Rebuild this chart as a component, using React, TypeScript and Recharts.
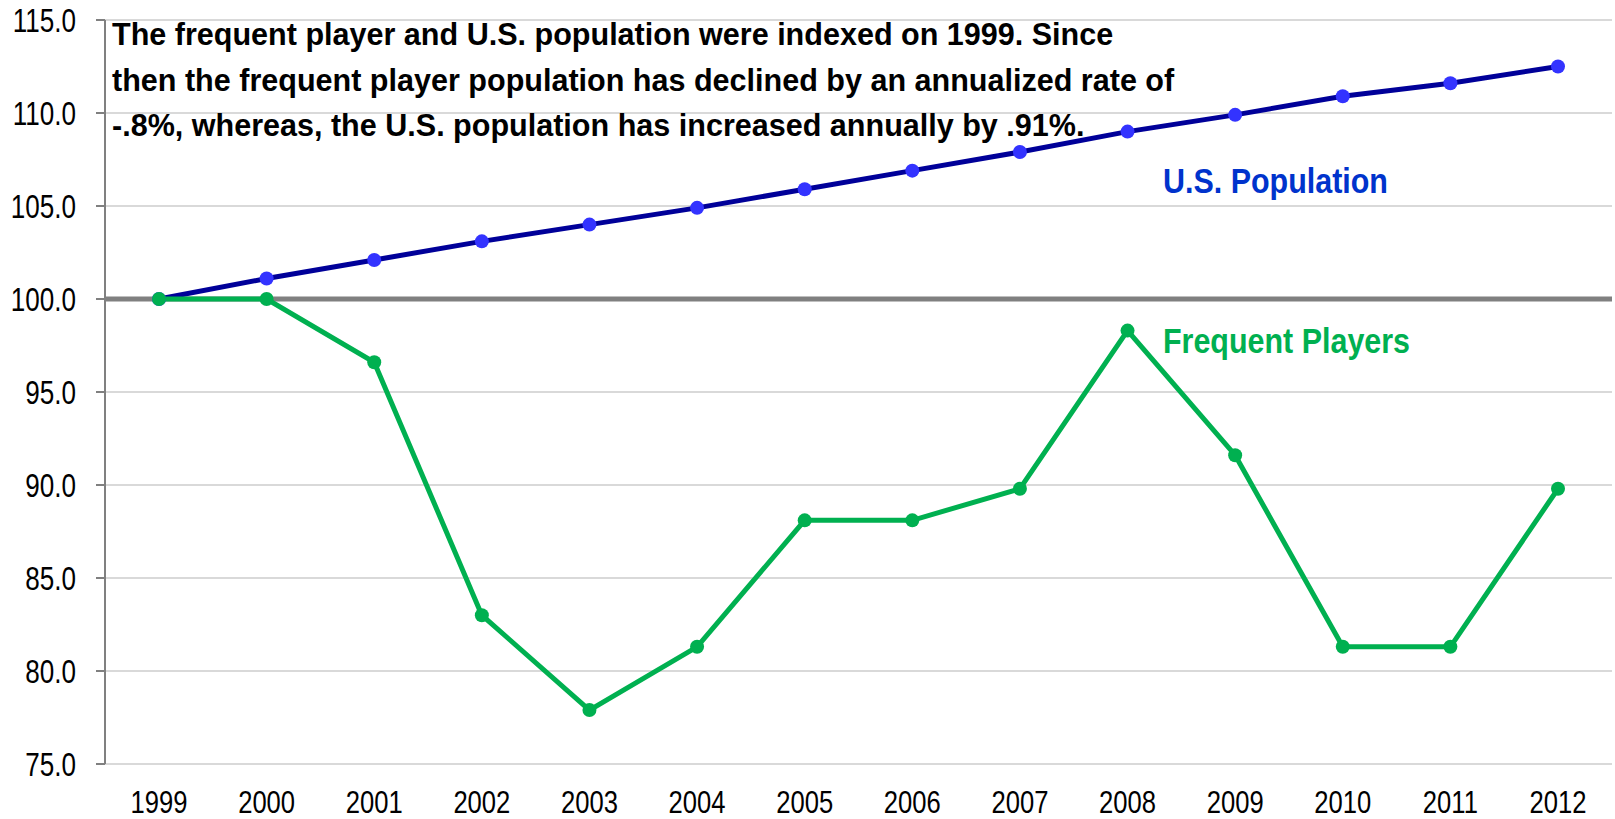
import React from "react"
import {
  LineChart, Line, XAxis, YAxis, CartesianGrid, ReferenceLine
} from "recharts"

const years = ["1999", "2000", "2001", "2002", "2003", "2004", "2005", "2006", "2007", "2008", "2009", "2010", "2011", "2012"]
const usPopulation = [100.0, 101.1, 102.1, 103.1, 104.0, 104.9, 105.9, 106.9, 107.9, 109.0, 109.9, 110.9, 111.6, 112.5]
const frequentPlayers = [100.0, 100.0, 96.6, 83.0, 77.9, 81.3, 88.1, 88.1, 89.8, 98.3, 91.6, 81.3, 81.3, 89.8]
const yTicks = [75, 80, 85, 90, 95, 100, 105, 110, 115]

const noteLines = [
  "The frequent player and U.S. population were indexed on 1999. Since",
  "then the frequent player population has declined by an annualized rate of",
  "-.8%, whereas, the U.S. population has increased annually by .91%.",
]

const SANS = '"Liberation Sans", Arial, sans-serif'

const data = years.map((year, i) => ({
  year,
  us: usPopulation[i],
  fp: frequentPlayers[i],
}))

// text squeezed horizontally to look like Arial Narrow
const NarrowText = ({ x, y, sx, size, color, children }: any) => (
  <text
    transform={`translate(${x},${y}) scale(${sx},1)`}
    fontFamily={SANS}
    fontWeight="bold"
    fontSize={size}
    fill={color}
    style={{ whiteSpace: "pre" }}
  >
    {children}
  </text>
)

const XTick = ({ x, y, payload }: any) => (
  <text
    transform={`translate(${x},${y}) scale(0.8,1)`}
    textAnchor="middle"
    dy="0.71em"
    fontFamily={SANS}
    fontSize={32}
    fill="#000"
  >
    {payload.value}
  </text>
)

const YTick = ({ x, y, payload }: any) => (
  <text
    transform={`translate(${x},${y}) scale(0.79,1)`}
    textAnchor="end"
    dy="0.355em"
    fontFamily={SANS}
    fontSize={33}
    fill="#000"
  >
    {Number(payload.value).toFixed(1)}
  </text>
)

const App = () => {
  return (
    <div style={{ position: "absolute", left: 0, top: 0, width: 1615, height: 819, background: "#fff" }}>
      <LineChart width={1615} height={819} data={data} margin={{ top: 20, right: 3, left: 0, bottom: 0 }}>
        <CartesianGrid vertical={false} stroke="#D9D9D9" strokeWidth={2} />
        <XAxis
          dataKey="year"
          height={55}
          padding={{ left: 54, right: 54 }}
          axisLine={false}
          tickLine={false}
          tickSize={6}
          tickMargin={20}
          interval={0}
          tick={<XTick />}
        />
        <YAxis
          width={105}
          domain={[75, 115]}
          ticks={yTicks}
          axisLine={{ stroke: "#808080", strokeWidth: 2 }}
          tickLine={{ stroke: "#808080", strokeWidth: 2 }}
          tickSize={9}
          tickMargin={20}
          tick={<YTick />}
        />
        <ReferenceLine y={100} stroke="#808080" strokeWidth={5} />
        <Line
          dataKey="us"
          stroke="#000099"
          strokeWidth={5}
          dot={{ r: 7, fill: "#3333FF", stroke: "none" }}
          isAnimationActive={false}
        />
        <Line
          dataKey="fp"
          stroke="#00B050"
          strokeWidth={5}
          dot={{ r: 7, fill: "#00B050", stroke: "none" }}
          isAnimationActive={false}
        />
      </LineChart>

      {/* annotation and series labels */}
      <svg width={1615} height={819} style={{ position: "absolute", left: 0, top: 0, pointerEvents: "none" }}>
        {noteLines.map((line, i) => (
          <NarrowText key={i} x={112} y={45 + i * 45.5} sx={0.955} size={32} color="#000">
            {line}
          </NarrowText>
        ))}
        <NarrowText x={1163} y={193} sx={0.87} size={35} color="#0033CC">
          U.S. Population
        </NarrowText>
        <NarrowText x={1163} y={353} sx={0.87} size={35} color="#00B050">
          Frequent Players
        </NarrowText>
      </svg>
    </div>
  )
}

export default App
